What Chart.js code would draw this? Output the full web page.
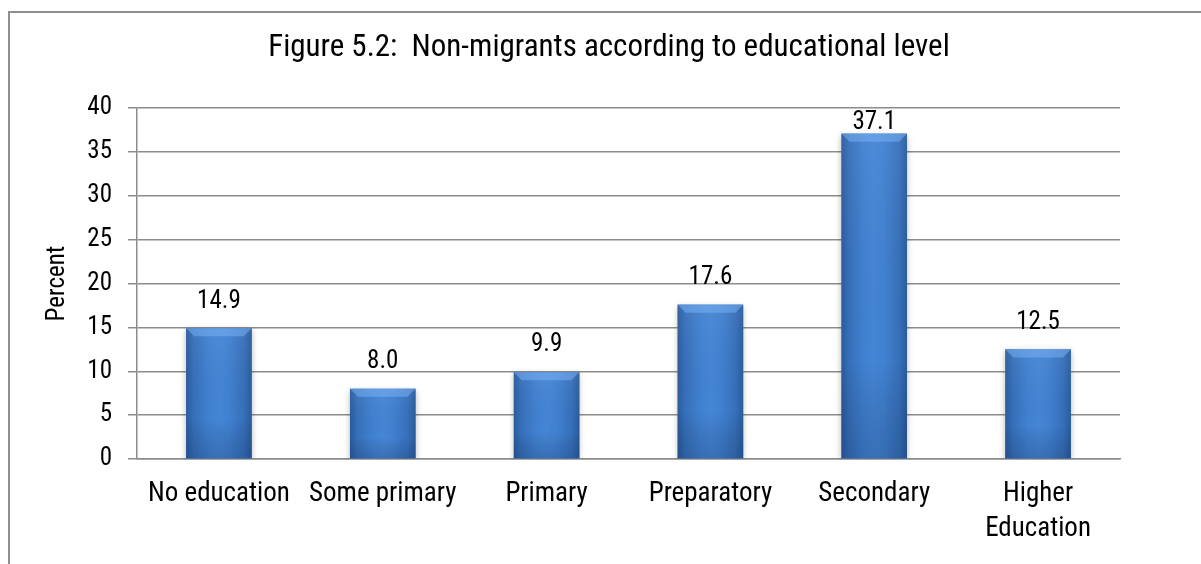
<!DOCTYPE html>
<html><head><meta charset="utf-8">
<script src="https://cdn.jsdelivr.net/npm/chart.js@4.4.1/dist/chart.umd.min.js"></script>
<style>
html,body{margin:0;padding:0;background:#fff;width:1201px;height:564px;overflow:hidden}
#frame{position:absolute;left:8px;top:11px;width:1400px;height:800px;border-left:2px solid #8f8f8f;border-top:2px solid #8f8f8f}
#wrap{position:absolute;left:0;top:0;width:1201px;height:564px}
</style></head><body>
<div id="frame"></div>
<div id="wrap"><canvas id="c" width="1201" height="564"></canvas></div>
<script>
const categories = ["No education", "Some primary", "Primary", "Preparatory", "Secondary", ["Higher", "Education"]];
const percentValues = [14.9, 8.0, 9.9, 17.6, 37.1, 12.5];
const yTickLabels = [0, 5, 10, 15, 20, 25, 30, 35, 40];
const titleText = "Figure 5.2:  Non-migrants according to educational level";
const yAxisTitle = "Percent";

const FONT = "'Liberation Sans Narrow', 'Roboto Condensed', 'Open Sans', sans-serif";
const GRID = '#8c8c8c';

const barStyle = {
  id: 'barStyle',
  beforeDatasetDraw(chart) {
    const ctx = chart.ctx;
    ctx.save();
    ctx.shadowColor = 'rgba(0,0,0,0.28)';
    ctx.shadowBlur = 6;
    ctx.shadowOffsetX = 0;
    ctx.shadowOffsetY = 2;
  },
  afterDatasetDraw(chart) {
    chart.ctx.restore();
  },
  afterDatasetsDraw(chart) {
    const ctx = chart.ctx;
    const meta = chart.getDatasetMeta(0);
    meta.data.forEach((el) => {
      const p = el.getProps(['x', 'y', 'base', 'width'], true);
      const x0 = p.x - p.width / 2, x1 = p.x + p.width / 2;
      const top = Math.min(p.y, p.base), bot = Math.max(p.y, p.base);
      const h = bot - top;
      ctx.save();
      const g = ctx.createLinearGradient(x0, 0, x1, 0);
      g.addColorStop(0, '#2a5c9c');
      g.addColorStop(0.12, '#3670bb');
      g.addColorStop(0.35, '#4181d0');
      g.addColorStop(0.5, '#4485d5');
      g.addColorStop(0.65, '#4181d0');
      g.addColorStop(0.88, '#3670bb');
      g.addColorStop(1, '#2a5c9c');
      ctx.fillStyle = g;
      ctx.fillRect(x0, top, p.width, h);
      const v = ctx.createLinearGradient(0, top, 0, bot);
      v.addColorStop(0, 'rgba(255,255,255,0.05)');
      v.addColorStop(0.7, 'rgba(0,0,0,0.0)');
      v.addColorStop(1, 'rgba(10,30,70,0.2)');
      ctx.fillStyle = v;
      ctx.fillRect(x0, top, p.width, h);
      const b = Math.min(8, h / 2);
      ctx.beginPath();
      ctx.moveTo(x0, top);
      ctx.lineTo(x1, top);
      ctx.lineTo(x1 - b, top + b);
      ctx.lineTo(x0 + b, top + b);
      ctx.closePath();
      ctx.fillStyle = 'rgba(120,175,240,0.55)';
      ctx.fill();
      ctx.restore();
    });
  }
};

const valueLabels = {
  id: 'valueLabels',
  afterDraw(chart) {
    const ctx = chart.ctx;
    const meta = chart.getDatasetMeta(0);
    ctx.save();
    ctx.font = '25px ' + FONT;
    ctx.fillStyle = '#000';
    ctx.textAlign = 'center';
    ctx.textBaseline = 'middle';
    meta.data.forEach((el, i) => {
      const p = el.getProps(['x', 'y'], true);
      let y = p.y - 27;
      y = Math.max(y, chart.chartArea.top + 15);
      ctx.fillText(percentValues[i].toFixed(1), p.x, y);
    });
    ctx.restore();
  }
};

new Chart(document.getElementById('c'), {
  type: 'bar',
  data: {
    labels: categories,
    datasets: [{
      data: percentValues,
      backgroundColor: '#3f7fcf',
      borderWidth: 0,
      barPercentage: 0.4,
      categoryPercentage: 1.0
    }]
  },
  options: {
    responsive: false,
    devicePixelRatio: 1,
    animation: false,
    layout: { padding: { left: 17, right: 0, top: 0, bottom: 0 } },
    plugins: {
      legend: { display: false },
      tooltip: { enabled: false },
      title: {
        display: true,
        text: titleText,
        color: '#000',
        font: { family: FONT, size: 31, weight: 'normal', lineHeight: 1.2 },
        padding: { top: 30, bottom: 41 }
      }
    },
    scales: {
      x: {
        grid: { display: false, drawTicks: false },
        border: { display: true, color: GRID, width: 1.5 },
        ticks: {
          color: '#000',
          padding: 18,
          maxRotation: 0,
          autoSkip: false,
          font: { family: FONT, size: 27, lineHeight: 1.3 }
        },
        afterFit(scale) { scale.height = 105; }
      },
      y: {
        min: 0,
        max: 40,
        afterBuildTicks(scale) { scale.ticks = yTickLabels.map(v => ({ value: v })); },
        ticks: {
          color: '#000',
          padding: 16,
          font: { family: FONT, size: 25 }
        },
        grid: { color: GRID, lineWidth: 1.5, tickLength: 9, drawTicks: true },
        border: { display: true, color: GRID, width: 1.5 },
        title: {
          display: true,
          text: yAxisTitle,
          color: '#000',
          font: { family: FONT, size: 25, lineHeight: 1.2 },
          padding: { top: 26, bottom: 0 }
        },
        afterFit(scale) { scale.width = 120; }
      },
      yRight: {
        position: 'right',
        display: true,
        min: 0,
        max: 40,
        ticks: { display: false },
        grid: { display: false, drawTicks: false },
        border: { display: false },
        afterFit(scale) { scale.width = 81; }
      }
    }
  },
  plugins: [barStyle, valueLabels]
});
</script>
</body></html>
